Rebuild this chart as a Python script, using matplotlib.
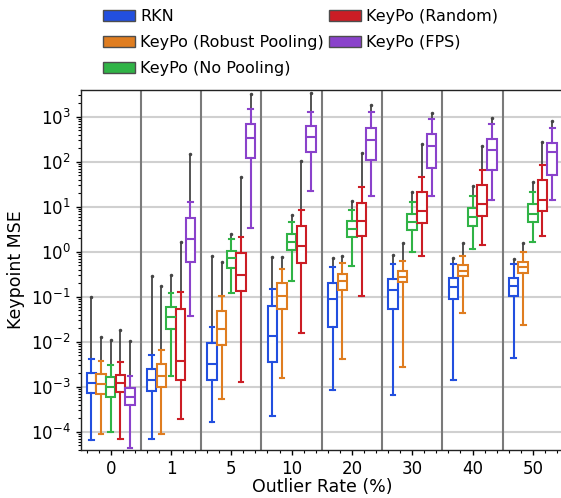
import colorsys
import numpy as np
import matplotlib
matplotlib.use("Agg")
import matplotlib.pyplot as plt
from matplotlib.patches import Patch
from matplotlib.ticker import AutoMinorLocator, LogLocator, NullFormatter
import matplotlib.colors as mcolors

categories = ['0', '1', '5', '10', '20', '30', '40', '50']
methods = ['RKN', 'KeyPo (Robust Pooling)', 'KeyPo (No Pooling)',
           'KeyPo (Random)', 'KeyPo (FPS)']
base_colors = ['#023eff', '#ff7c00', '#1ac938', '#e8000b', '#8b2be2']

# box statistics, stored as log10 of Keypoint MSE (rows = methods, cols = categories)
med_log = [
    [-2.91, -2.86, -2.50, -1.88, -1.06, -0.86, -0.78, -0.77],
    [-2.94, -2.75, -1.72, -0.98, -0.65, -0.56, -0.43, -0.35],
    [-3.00, -1.44, -0.15, 0.22, 0.51, 0.67, 0.77, 0.83],
    [-2.91, -2.42, -0.52, 0.13, 0.68, 0.90, 1.06, 1.15],
    [-3.22, 0.28, 2.52, 2.55, 2.48, 2.36, 2.26, 2.21],
]
q1_log = [
    [-3.13, -3.10, -2.84, -2.46, -1.67, -1.27, -1.06, -0.98],
    [-3.15, -3.01, -2.07, -1.27, -0.84, -0.68, -0.55, -0.47],
    [-3.22, -1.72, -0.37, 0.03, 0.33, 0.48, 0.58, 0.65],
    [-3.12, -2.85, -0.87, -0.24, 0.36, 0.63, 0.80, 0.90],
    [-3.41, -0.22, 2.09, 2.22, 2.03, 1.85, 1.81, 1.71],
]
q3_log = [
    [-2.69, -2.60, -2.02, -1.21, -0.70, -0.61, -0.59, -0.58],
    [-2.72, -2.49, -1.32, -0.70, -0.50, -0.42, -0.30, -0.22],
    [-2.79, -1.22, 0.02, 0.39, 0.68, 0.84, 0.97, 1.05],
    [-2.73, -1.27, -0.02, 0.58, 1.09, 1.33, 1.49, 1.59],
    [-3.02, 0.74, 2.83, 2.79, 2.76, 2.62, 2.50, 2.42],
]
whislo_log = [
    [-4.18, -4.15, -3.78, -3.65, -3.07, -3.18, -2.85, -2.36],
    [-4.04, -4.04, -3.27, -2.81, -2.39, -2.56, -1.36, -1.63],
    [-4.00, -2.76, -0.92, -0.65, -0.31, -0.01, 0.07, 0.22],
    [-4.16, -3.71, -2.89, -1.81, -0.98, -0.10, 0.14, 0.36],
    [-4.36, -1.43, 0.53, 1.36, 1.24, 1.24, 1.15, 1.15],
]
whishi_log = [
    [-2.39, -2.30, -1.67, -0.83, -0.33, -0.28, -0.28, -0.28],
    [-2.43, -2.18, -0.98, -0.38, -0.26, -0.21, -0.10, -0.01],
    [-2.52, -0.92, 0.28, 0.65, 0.93, 1.11, 1.24, 1.32],
    [-2.46, -0.89, 0.33, 0.93, 1.44, 1.66, 1.82, 1.93],
    [-2.76, 1.10, 3.17, 3.10, 3.10, 2.96, 2.84, 2.76],
]
fliermax_log = [
    [-1.00, -0.53, -0.10, -0.11, -0.15, -0.07, -0.15, -0.16],
    [-1.90, -0.75, -0.22, -0.11, -0.09, 0.19, 0.20, 0.20],
    [-1.96, -0.51, 0.39, 0.82, 1.13, 1.33, 1.46, 1.56],
    [-1.74, 0.22, 1.66, 2.02, 2.20, 2.39, 2.36, 2.44],
    [-1.98, 2.17, 3.50, 3.52, 3.25, 3.09, 2.98, 2.91],
]


def desaturate(c, prop=0.75):
    r, g, b = mcolors.to_rgb(c)
    h, l, s = colorsys.rgb_to_hls(r, g, b)
    return colorsys.hls_to_rgb(h, l, s * prop)


colors = [desaturate(c) for c in base_colors]

plt.rcParams['font.family'] = ['DejaVu Sans']
plt.rcParams['font.size'] = 12

W, H = 561, 498
fig = plt.figure(figsize=(W / 100, H / 100), dpi=100)
ax_left, ax_right, ax_top, ax_bot = 80.5, 563.0, 90.0, 450.0
ax = fig.add_axes([ax_left / W, 1 - ax_bot / H, (ax_right - ax_left) / W,
                   (ax_bot - ax_top) / H])

n = len(methods)
bw = 0.8 / n
lw = 1.5
for i, m in enumerate(methods):
    col = colors[i]
    offset = -0.4 + bw * (i + 0.5)
    stats = []
    positions = []
    for j in range(len(categories)):
        stats.append(dict(
            med=10 ** med_log[i][j], q1=10 ** q1_log[i][j], q3=10 ** q3_log[i][j],
            whislo=10 ** whislo_log[i][j], whishi=10 ** whishi_log[i][j],
            fliers=[10 ** fliermax_log[i][j]]))
        positions.append(j + offset)
        # dense column of outliers above the upper whisker
        ax.plot([j + offset, j + offset],
                [10 ** whishi_log[i][j], 10 ** fliermax_log[i][j]],
                color='#454545', lw=1.3, solid_capstyle='butt', zorder=2.5)
    ax.bxp(stats, positions=positions, widths=bw * 0.98, patch_artist=True,
           manage_ticks=False, capwidths=bw * 0.5,
           boxprops=dict(facecolor='white', edgecolor=col, linewidth=lw),
           medianprops=dict(color=col, linewidth=lw),
           whiskerprops=dict(color=col, linewidth=lw),
           capprops=dict(color=col, linewidth=lw),
           flierprops=dict(marker='o', markersize=1.5, markerfacecolor='#454545',
                           markeredgecolor='#454545'),
           zorder=3)

ax.set_yscale('log')
ax.set_ylim(3.94e-5, 3920)
ax.set_xlim(-0.5, len(categories) - 0.5)
ax.set_xticks(range(len(categories)))
ax.set_xticklabels(categories)
ax.xaxis.set_minor_locator(AutoMinorLocator(5))
ax.yaxis.set_major_locator(LogLocator(base=10, numticks=20))
ax.yaxis.set_minor_locator(LogLocator(base=10, subs=np.arange(2, 10), numticks=20))
ax.yaxis.set_minor_formatter(NullFormatter())

ax.grid(axis='y', which='major', color='#d0d0d0', linewidth=1.5, zorder=0)
ax.set_axisbelow(True)
for k in range(1, len(categories)):
    ax.axvline(k - 0.5, color='#7a7a7a', linewidth=1.5, zorder=1)

for s in ['left', 'bottom', 'top']:
    ax.spines[s].set_color('#222222')
    ax.spines[s].set_linewidth(1.0)
ax.spines['right'].set_visible(False)
ax.tick_params(which='major', length=3.5, width=1.0, direction='out')
ax.tick_params(which='minor', length=2, width=0.8, direction='out')

ax.set_xlabel('Outlier Rate (%)', fontsize=12.5, labelpad=0)
ax.set_ylabel('Keypoint MSE', fontsize=12.5, labelpad=4)

handles = [Patch(facecolor=colors[i], edgecolor='#4d4d4d', linewidth=1.0,
                 label=methods[i]) for i in range(n)]
fig.legend(handles=handles, loc='upper left', bbox_to_anchor=(97 / W, 1 - 3 / H),
           ncol=2, frameon=False, fontsize=11.5, columnspacing=0.35,
           handletextpad=0.3, borderaxespad=0, labelspacing=0.68)

fig.savefig('out.png', dpi=100)
